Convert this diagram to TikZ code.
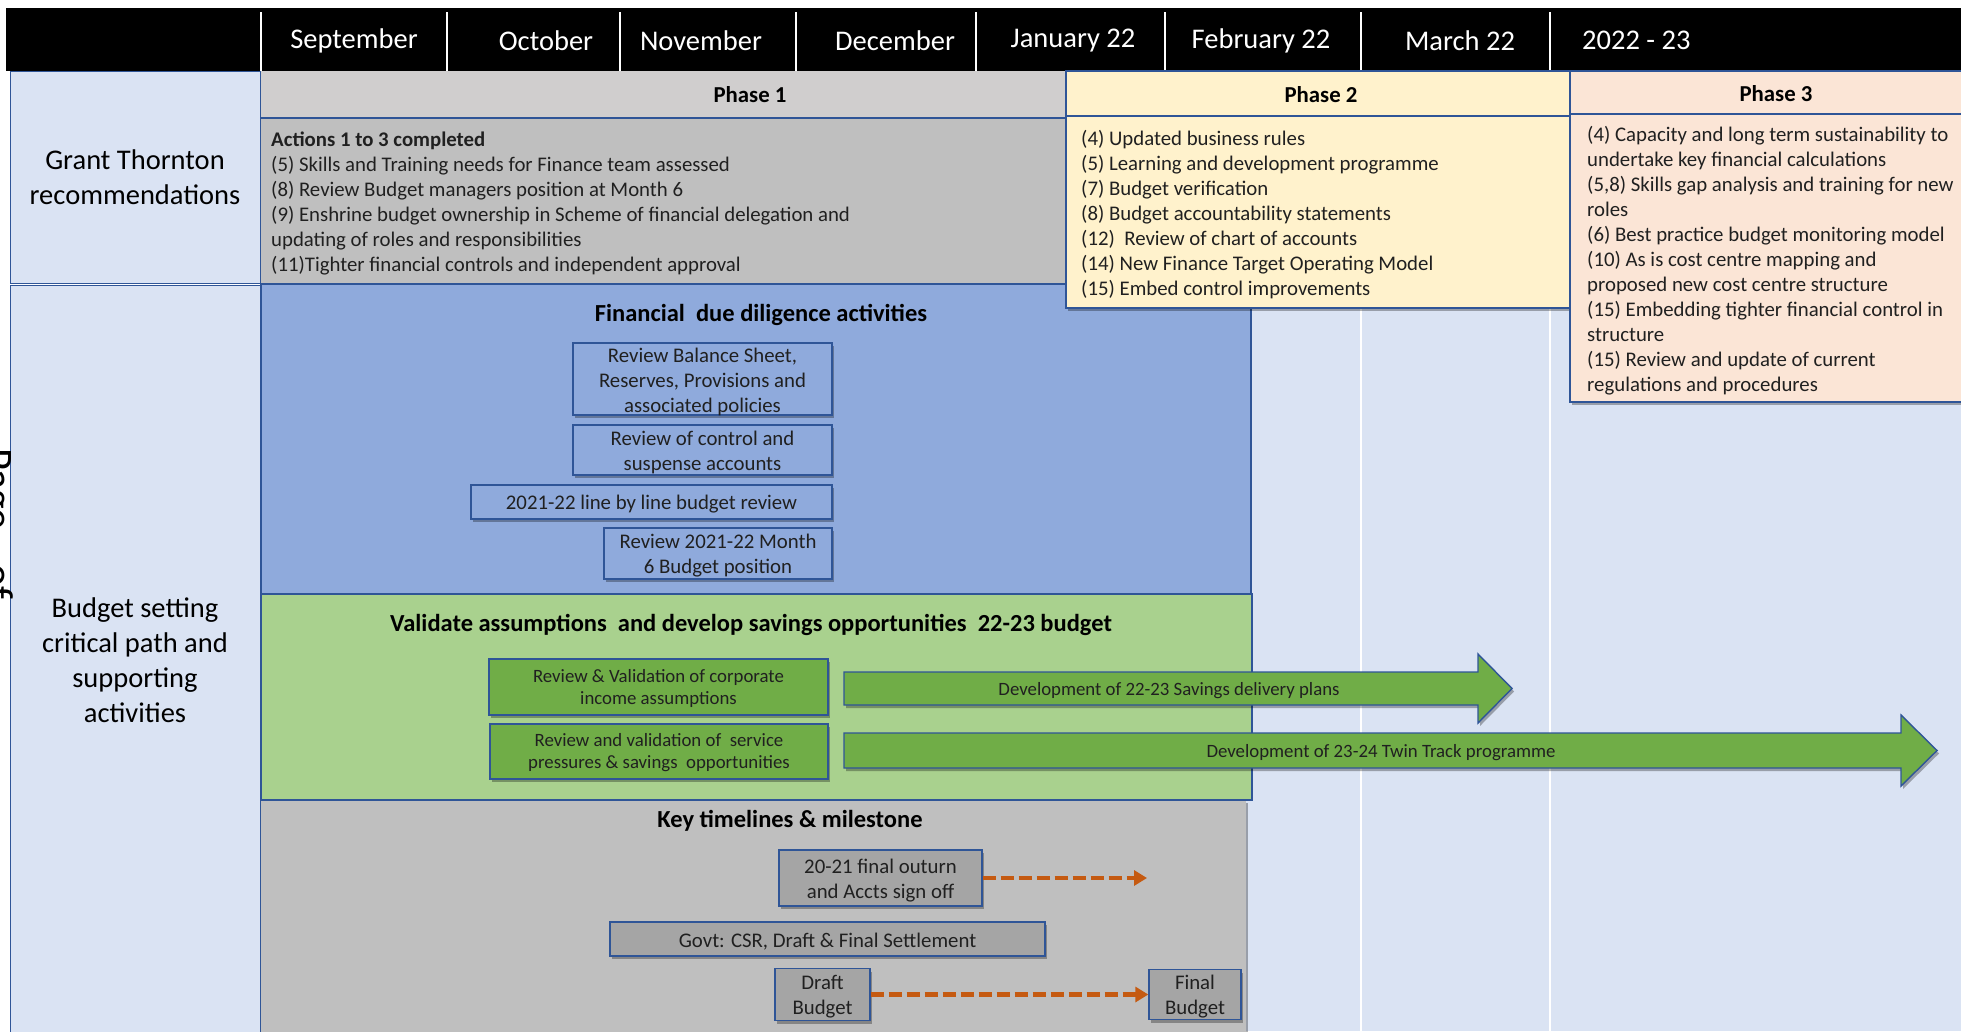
\documentclass[tikz,border=0pt]{standalone}
\usepackage{fontspec}
\setmainfont{Carlito}
\usetikzlibrary{shadows,arrows.meta}
\definecolor{bgblue}{HTML}{DAE3F3}
\definecolor{boxblue}{HTML}{8FAADC}
\definecolor{lgreen}{HTML}{A9D18E}
\definecolor{dgreen}{HTML}{70AD47}
\definecolor{greybox}{HTML}{BFBFBF}
\definecolor{phonehead}{HTML}{D0CECE}
\definecolor{phtwo}{HTML}{FFF2CC}
\definecolor{phthree}{HTML}{FBE5D6}
\definecolor{midgrey}{HTML}{A5A5A5}
\definecolor{orng}{HTML}{C55A11}
\definecolor{bordc}{HTML}{2F5597}
\definecolor{txt}{HTML}{202020}
\newcommand{\myfs}[2]{\fontsize{#1}{#2}\selectfont}
\begin{document}
\begin{tikzpicture}[x=1pt,y=-1pt,
  bord/.style={draw=bordc, line width=1.4pt},
  shad/.style={drop shadow={shadow xshift=2pt,shadow yshift=-3pt,opacity=0.3,fill=black}},
  ibox/.style={bord, shad, inner sep=0pt},
  bbox/.style={ibox, fill=boxblue},
  gbox/.style={ibox, fill=dgreen},
  kbox/.style={ibox, fill=midgrey},
  btxt/.style={align=center, inner sep=0pt, text=txt, font=\myfs{20.8}{25}},
  gtxt/.style={align=center, inner sep=0pt, text=txt, font=\myfs{18.8}{22}},
  month/.style={text=white, font=\myfs{28.5}{34}, inner sep=0pt},
  sidelabel/.style={align=center, inner sep=0pt, font=\myfs{28.5}{35}, text=black},
  title/.style={font=\bfseries\myfs{24.5}{28}, inner sep=0pt, text=black},
  phlabel/.style={font=\bfseries\myfs{22.8}{26}, inner sep=0pt, text=black},
  plist/.style={align=left, anchor=north west, inner sep=0pt, text=txt, font=\myfs{20.8}{25}},
  bigarrow/.style={fill=dgreen, draw=bordc, line width=1.4pt, shad},
  arrowtext/.style={font=\myfs{18.8}{22}, inner sep=0pt, text=txt},
  dasharrow/.style={draw=orng, line width=4.5pt, dash pattern=on 13pt off 5pt, -{Triangle[length=13pt,width=15pt]}},
]
\useasboundingbox (0,0) rectangle (1961,1031);
\clip (0,0) rectangle (1961,1031);
\fill[white] (0,0) rectangle (1961,1031);
% body background and month grid
\fill[bgblue] (261,71) rectangle (1961,1031);
\foreach \gx in {447,620,796,976,1165,1361,1550} \draw[white, line width=1.5pt] (\gx,71) -- (\gx,1031);
% header bar
\fill[black] (6,8) rectangle (1961,71);
\foreach \gx in {261,447,620,796,976,1165,1361,1550} \draw[white, line width=1.5pt] (\gx,12) -- (\gx,71);
\node[month] (m1) at (354,40.5) {September};
\node[month] (m2) at (546,40.5) {October};
\node[month] (m3) at (701,40.5) {November};
\node[month] (m4) at (895,40.5) {December};
\node[month] (m5) at (1073,40.5) {January 22};
\node[month] (m6) at (1261,40.5) {February 22};
\node[month] (m7) at (1460,40.5) {March 22};
\node[month, anchor=west] (m8) at (1582,40.5) {2022 - 23};
% left column
\node[bord, fill=bgblue, minimum width=250pt, minimum height=212pt, anchor=north west, inner sep=0pt] (gtcell) at (10,71) {};
\node[sidelabel] (gtlabel) at (135,177) {Grant Thornton\\recommendations};
\node[bord, fill=bgblue, minimum width=250pt, minimum height=770pt, anchor=north west, inner sep=0pt] (bscell) at (10,285) {};
\node[sidelabel] (bslabel) at (135,660) {Budget setting\\critical path and\\supporting\\activities};
% page fragment
\node[rotate=-90, anchor=base west, inner sep=0pt, font=\myfs{42}{46}, text=black] (pagefrag) at (-15,448) {Page\hspace{35pt}of};
% phase 1
\fill[phonehead] (261,71) rectangle (1066,118);
\fill[greybox] (261,118) rectangle (1066,284);
\draw[bord] (261,118) -- (1066,118);
\node[phlabel] (p1label) at (750,94.5) {Phase 1};
\node[plist] (p1list) at (271,131.5) {\textbf{Actions 1 to 3 completed}\\(5) Skills and Training needs for Finance team assessed\\(8) Review Budget managers position at Month 6\\(9) Enshrine budget ownership in Scheme of financial delegation and\\updating of roles and responsibilities\\(11)Tighter financial controls and independent approval};
% big boxes
\fill[greybox, shad] (261,800) rectangle (1246,1045);
\draw[bord, fill=boxblue] (261,284) rectangle (1251,594);
\draw[bord, fill=lgreen] (261,594) rectangle (1252,800);
\node[title] (fddtitle) at (761,314.5) {Financial~ due diligence activities};
\node[title] (valtitle) at (751,624.5) {Validate assumptions~ and develop savings opportunities~ 22-23 budget};
\node[title] (keytitle) at (790,820.5) {Key timelines \& milestone};
% financial due diligence boxes
\node[bbox, minimum width=259pt, minimum height=72pt] (fd1) at (702.5,379) {};
\node[btxt] (fd1t) at (702.5,382) {Review Balance Sheet,\\Reserves, Provisions and\\associated policies};
\node[bbox, minimum width=259pt, minimum height=50pt] (fd2) at (702.5,450) {};
\node[btxt] (fd2t) at (702.5,452.5) {Review of control and\\suspense accounts};
\node[bbox, minimum width=361pt, minimum height=34pt] (fd3) at (651.5,502) {};
\node[btxt] (fd3t) at (651.5,504.5) {2021-22 line by line budget review};
\node[bbox, minimum width=228pt, minimum height=51pt] (fd4) at (718,553.5) {};
\node[btxt] (fd4t) at (718,556) {Review 2021-22 Month\\6 Budget position};
% validate boxes
\node[gbox, minimum width=339pt, minimum height=56pt] (va1) at (658.5,687) {};
\node[gtxt] (va1t) at (658.5,688.5) {Review \& Validation of corporate\\income assumptions};
\node[gbox, minimum width=338pt, minimum height=55pt] (va2) at (659,751.5) {};
\node[gtxt] (va2t) at (659,753) {Review and validation of~ service\\pressures \& savings~ opportunities};
% big arrows
\draw[bigarrow] (844,672) -- (1478,672) -- (1478,654) -- (1512,688.5) -- (1478,723) -- (1478,705) -- (844,705) -- cycle;
\node[arrowtext] (ar1) at (1169,691) {Development of 22-23 Savings delivery plans};
\draw[bigarrow] (844,733) -- (1901,733) -- (1901,715) -- (1937,750.5) -- (1901,786) -- (1901,768) -- (844,768) -- cycle;
\node[arrowtext] (ar2) at (1381,753) {Development of 23-24 Twin Track programme};
% key timelines
\node[kbox, minimum width=203pt, minimum height=56pt] (kt1) at (880.5,878) {};
\node[btxt] (kt1t) at (880.5,880.5) {20-21 final outurn\\and Accts sign off};
\node[kbox, minimum width=435pt, minimum height=34pt] (kt2) at (827.5,939) {};
\node[btxt] (kt2t) at (827.5,941.5) {Govt: CSR, Draft \& Final Settlement};
\node[kbox, minimum width=95pt, minimum height=52pt] (kt3) at (822.5,994.5) {};
\node[btxt] (kt3t) at (822.5,997) {Draft\\Budget};
\node[kbox, minimum width=92pt, minimum height=50pt] (kt4) at (1195,994.5) {};
\node[btxt] (kt4t) at (1195,997) {Final\\Budget};
\coordinate (kt1end) at (1147,878);
\draw[dasharrow] (kt1.east) -- (kt1end);
\draw[dasharrow] (kt3.east) -- (kt4.west);
% phase 2
\draw[bord, fill=phtwo, shad] (1066,71) rectangle (1570,308);
\draw[bord] (1066,116) -- (1570,116);
\node[phlabel] (p2label) at (1321,95) {Phase 2};
\node[plist] (p2list) at (1081,130.5) {(4) Updated business rules\\(5) Learning and development programme\\(7) Budget verification\\(8) Budget accountability statements\\(12)~ Review of chart of accounts\\(14) New Finance Target Operating Model\\(15) Embed control improvements};
% phase 3
\draw[bord, fill=phthree, shad] (1570,71) rectangle (1975,402);
\draw[bord] (1570,114) -- (1975,114);
\node[phlabel] (p3label) at (1776,94) {Phase 3};
\node[plist] (p3list) at (1587,126.5) {(4) Capacity and long term sustainability to\\undertake key financial calculations\\(5,8) Skills gap analysis and training for new\\roles\\(6) Best practice budget monitoring model\\(10) As is cost centre mapping and\\proposed new cost centre structure\\(15) Embedding tighter financial control in\\structure\\(15) Review and update of current\\regulations and procedures};
\end{tikzpicture}
\end{document}
